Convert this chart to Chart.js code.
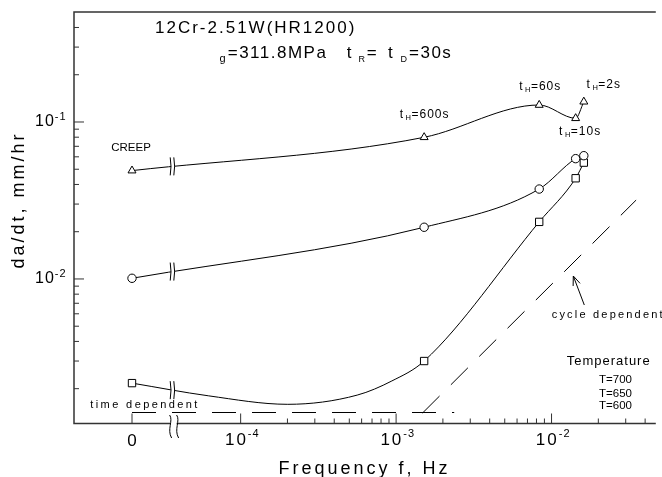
<!DOCTYPE html>
<html>
<head>
<meta charset="utf-8">
<script src="https://cdn.jsdelivr.net/npm/chart.js@4.4.1/dist/chart.umd.min.js"></script>
<style>
  html, body { margin: 0; padding: 0; background: #fff; }
  canvas { display: block; }
</style>
</head>
<body>
<canvas id="crackChart" width="662" height="477"></canvas>
<script>
// da/dt vs frequency, 12Cr-2.51W (HR1200), tR = tD = 30 s
const holdTimes = ['', '600s', '60s', '10s', '2s'];            // tH, '' = creep
const frequency = [0, 0.001515, 0.00833, 0.01429, 0.01613];    // Hz, 0 = creep
const rate700 = [0.0490, 0.0799, 0.1283, 0.1056, 0.1346];      // mm/hr
const rate650 = [0.0101, 0.02135, 0.0374, 0.0584, 0.0610];
const rate600 = [0.00217, 0.00300, 0.0231, 0.0438, 0.0551];

// the 600 curve sags below the creep rate before the 600s point
const curve600Freq = [0, 0.0000623, 0.000201, 0.000562, 0.000939, 0.001515, 0.00833, 0.01429, 0.01613];
const curve600Rate = [0.00217, 0.00180, 0.00159, 0.00182, 0.00224, 0.00300, 0.0231, 0.0438, 0.0551];

// time dependent / cycle dependent limits
const timeDepFreq = [0, 0.002365];
const timeDepRate = [0.00141, 0.00141];
const cycleDepFreq = [0.00148, 0.0350];
const cycleDepRate = [0.00140, 0.0318];

const xMajor = [1e-4, 1e-3, 1e-2];
const yMajor = [1e-2, 1e-1];
const ZERO_AT = 2e-5;     // where f = 0 is put on the broken axis
const BREAK_AT = 3.65e-5; // axis break

const FONT = '"Liberation Sans", Arial, sans-serif';

const pts = (xs, ys) => xs.map((f, i) => ({ x: f === 0 ? ZERO_AT : f, y: ys[i] }));

const curve = (data) => ({
  data, borderColor: '#000', borderWidth: 1, pointRadius: 0, fill: false,
  cubicInterpolationMode: 'monotone', order: 2
});
const dashed = (data) => ({
  data, borderColor: '#000', borderWidth: 1, pointRadius: 0, fill: false,
  tension: 0, borderDash: [24, 16], order: 3
});
const marks = (data, style, r) => ({
  data, showLine: false, pointStyle: style, pointRadius: r,
  borderColor: '#000', backgroundColor: '#fff', pointBorderWidth: 1, order: 0
});

// draws a run of text pieces: [text, size, dy, letterSpacing]
function drawParts(ctx, x, y, parts, align) {
  let total = 0;
  const sized = parts.map(([t, size, dy = 0, sp = 0]) => {
    ctx.font = size + 'px ' + FONT;
    ctx.letterSpacing = sp + 'px';
    const w = ctx.measureText(t).width;
    total += w;
    return { t, size, dy, sp, w };
  });
  let cx = align === 'center' ? x - total / 2 : x;
  ctx.textAlign = 'left';
  ctx.textBaseline = 'alphabetic';
  sized.forEach(p => {
    ctx.font = p.size + 'px ' + FONT;
    ctx.letterSpacing = p.sp + 'px';
    ctx.fillText(p.t, cx, y + p.dy);
    cx += p.w;
  });
  ctx.letterSpacing = '0px';
}

// y of a drawn curve at pixel px, from the line's own bezier control points
function curveYAt(meta, px) {
  const p = meta.data;
  const bez = (a, b, c, d, t) => {
    const u = 1 - t;
    return u * u * u * a + 3 * u * u * t * b + 3 * u * t * t * c + t * t * t * d;
  };
  for (let i = 0; i < p.length - 1; i++) {
    const a = p[i], b = p[i + 1];
    if (px < a.x || px > b.x) continue;
    let lo = 0, hi = 1;
    for (let k = 0; k < 40; k++) {
      const mid = (lo + hi) / 2;
      if (bez(a.x, a.cp2x, b.cp1x, b.x, mid) < px) lo = mid; else hi = mid;
    }
    return bez(a.y, a.cp2y, b.cp1y, b.y, lo);
  }
  return null;
}

const axesPlugin = {
  id: 'axesPlugin',
  afterDraw(chart) {
    const ctx = chart.ctx;
    const x = chart.scales.x, y = chart.scales.y;
    const { left, right, top, bottom } = chart.chartArea;
    const bx = x.getPixelForValue(BREAK_AT);

    ctx.save();

    // breaks on the curves
    [0, 1, 2].forEach(i => {
      const cy = curveYAt(chart.getDatasetMeta(i), bx);
      if (cy == null) return;
      ctx.fillStyle = '#fff';
      ctx.fillRect(bx - 1.5, cy - 3, 3, 6);
      ctx.strokeStyle = '#000';
      ctx.lineWidth = 1;
      [-1.8, 1.8].forEach(d => {
        ctx.beginPath();
        ctx.moveTo(bx + d - 0.6, cy - 9);
        ctx.quadraticCurveTo(bx + d + 1, cy, bx + d - 0.6, cy + 9);
        ctx.stroke();
      });
    });

    // frame
    ctx.strokeStyle = '#333';
    ctx.lineWidth = 1.5;
    ctx.beginPath();
    ctx.moveTo(right, top);
    ctx.lineTo(left, top);
    ctx.lineTo(left, bottom);
    ctx.lineTo(right, bottom);
    ctx.stroke();

    // x ticks, pointing in
    ctx.lineWidth = 1;
    const tick = (px, len) => {
      ctx.beginPath();
      ctx.moveTo(px, bottom);
      ctx.lineTo(px, bottom - len);
      ctx.stroke();
    };
    tick(x.getPixelForValue(ZERO_AT), 10);
    xMajor.forEach(v => {
      tick(x.getPixelForValue(v), 10);
      for (let m = 2; m <= 9; m++) {
        const mv = v * m;
        if (mv < x.max) tick(x.getPixelForValue(mv), 5);
      }
    });

    // y ticks, pointing in
    const ytick = (py, len) => {
      ctx.beginPath();
      ctx.moveTo(left, py);
      ctx.lineTo(left + len, py);
      ctx.stroke();
    };
    [1e-3, 1e-2, 1e-1].forEach(v => {
      if (v > y.min) ytick(y.getPixelForValue(v), 10);
      for (let m = 2; m <= 9; m++) {
        const mv = v * m;
        if (mv > y.min && mv < y.max * 0.98) ytick(y.getPixelForValue(mv), 5);
      }
    });

    // axis break
    ctx.fillStyle = '#fff';
    ctx.fillRect(bx - 2, bottom - 2, 6, 4);
    ctx.strokeStyle = '#000';
    [bx - 3, bx + 4].forEach(sx => {
      ctx.beginPath();
      ctx.moveTo(sx, bottom - 8.5);
      ctx.bezierCurveTo(sx + 4, bottom - 3, sx - 3, bottom + 6, sx + 2, bottom + 14.5);
      ctx.stroke();
    });

    // tick labels
    ctx.fillStyle = '#000';
    drawParts(ctx, x.getPixelForValue(ZERO_AT), bottom + 22.5, [['0', 17]], 'center');
    xMajor.forEach(v => {
      const e = Math.round(Math.log10(v));
      drawParts(ctx, x.getPixelForValue(v) - 15.7, bottom + 21.5,
        [['10', 17, 0, 2], [String(e), 11, -7.7, 1]]);
    });
    yMajor.forEach(v => {
      const e = Math.round(Math.log10(v));
      drawParts(ctx, 35, y.getPixelForValue(v) + 4,
        [['10', 16, 0, 1], [String(e), 11, -6, 1]]);
    });

    // axis titles
    drawParts(ctx, 364.5, 474.3, [['Frequency f, Hz', 18, 0, 3]], 'center');
    ctx.save();
    ctx.translate(23.5, 200);
    ctx.rotate(-Math.PI / 2);
    drawParts(ctx, 0, 0, [['da/dt, mm/hr', 18, 0, 3]], 'center');
    ctx.restore();

    // heading
    drawParts(ctx, 155, 32.5, [['12Cr-2.51W(HR1200)', 17, 0, 2]]);
    drawParts(ctx, 219.5, 57.5, [['g', 11, 4.5]]);
    drawParts(ctx, 227.7, 57.5, [['=311.8MPa', 17, 0, 1.5]]);
    drawParts(ctx, 346.7, 57.5, [['t', 17, 0, 2]]);
    drawParts(ctx, 358.5, 57.5, [['R', 9, 4]]);
    drawParts(ctx, 366.7, 57.5, [['=', 17, 0, 0]]);
    drawParts(ctx, 388, 57.5, [['t', 17, 0, 2]]);
    drawParts(ctx, 400.5, 57.5, [['D', 9, 4]]);
    drawParts(ctx, 409, 57.5, [['=30s', 17, 0, 1.5]]);

    // hold time labels next to the 700 points
    const tri = chart.getDatasetMeta(5).data;
    const holdOffsets = [null, [0.5, -19], [1, -15], [4.5, 16.7], [20, -13.4]];
    holdTimes.forEach((h, i) => {
      const p = tri[i];
      if (i === 0) {
        drawParts(ctx, p.x - 1, p.y - 19.7, [['CREEP', 11.5]], 'center');
        return;
      }
      const [dx, dy] = holdOffsets[i];
      drawParts(ctx, p.x + dx, p.y + dy,
        [['t', 12, 0, 2.5], ['H', 7.5, 2, 0.5], ['=' + h, 12, 0, 1]], 'center');
    });

    // regime labels
    drawParts(ctx, 145, 408, [['time dependent', 11, 0, 2.4]], 'center');
    drawParts(ctx, 551.7, 318, [['cycle dependent', 11, 0, 2.2]]);

    // arrow to the cycle dependent line
    const tip = [573.3, 276], tail = [584.3, 305];
    ctx.strokeStyle = '#000';
    ctx.lineWidth = 1;
    ctx.beginPath();
    ctx.moveTo(tail[0], tail[1]);
    ctx.lineTo(tip[0], tip[1]);
    const ang = Math.atan2(tail[1] - tip[1], tail[0] - tip[0]);
    [-0.38, 0.38].forEach(a => {
      ctx.moveTo(tip[0], tip[1]);
      ctx.lineTo(tip[0] + 10 * Math.cos(ang + a), tip[1] + 10 * Math.sin(ang + a));
    });
    ctx.stroke();

    // temperature key
    drawParts(ctx, 566.7, 365, [['Temperature', 13, 0, 1]]);
    drawParts(ctx, 599, 382.7, [['T=700', 11.5]]);
    drawParts(ctx, 599, 396.7, [['T=650', 11.5]]);
    drawParts(ctx, 599, 409.3, [['T=600', 11.5]]);

    ctx.restore();
  }
};

new Chart(document.getElementById('crackChart'), {
  type: 'line',
  data: {
    datasets: [
      curve(pts(frequency, rate700)),
      curve(pts(frequency, rate650)),
      curve(pts(curve600Freq, curve600Rate)),
      dashed(pts(timeDepFreq, timeDepRate)),
      dashed(pts(cycleDepFreq, cycleDepRate)),
      marks(pts(frequency, rate700), 'triangle', 4.6),
      marks(pts(frequency, rate650), 'circle', 4.2),
      marks(pts(frequency, rate600), 'rect', 5.2)
    ]
  },
  options: {
    responsive: false,
    devicePixelRatio: 1,
    animation: false,
    events: [],
    layout: { padding: { left: 74, top: 12, right: 0, bottom: 53.5 } },
    plugins: { legend: { display: false }, tooltip: { enabled: false } },
    scales: {
      x: { type: 'logarithmic', min: 8.47e-6, max: 0.04685, display: false },
      y: { type: 'logarithmic', min: 0.0012, max: 0.502, display: false }
    }
  },
  plugins: [axesPlugin]
});
</script>
</body>
</html>
